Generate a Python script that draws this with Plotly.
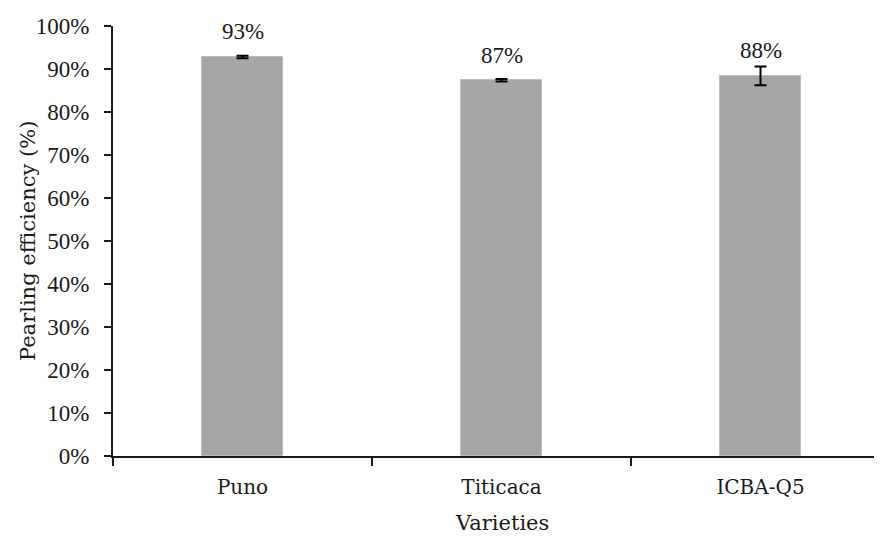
import plotly.graph_objects as go

categories = ["Puno", "Titicaca", "ICBA-Q5"]
values = [92.8, 87.4, 88.4]
errors = [0.3, 0.3, 2.2]
labels = ["93%", "87%", "88%"]
y_ticks = [0, 10, 20, 30, 40, 50, 60, 70, 80, 90, 100]
y_tick_text = [f"{v}%" for v in y_ticks]

NUM_FONT = "Liberation Serif"
WORD_FONT = "DejaVu Serif"
INK = "#1a1a1a"

fig = go.Figure()
fig.add_trace(go.Bar(
    x=categories, y=values, width=0.31,
    marker=dict(color="#a6a6a6", line=dict(width=1, color="#bdbdbd")),
    error_y=dict(type="data", array=errors, visible=True,
                 color="#000000", thickness=2, width=6),
))
for c, v, t in zip(categories, values, labels):
    fig.add_annotation(x=c, y=v, text=t, showarrow=False,
                       yanchor="middle", yshift=25,
                       font=dict(family=NUM_FONT, size=23, color=INK))

# axis titles
fig.add_annotation(xref="paper", yref="paper", x=0, y=0.5, xshift=-85,
                   text="Pearling efficiency (%)", textangle=-90, showarrow=False,
                   xanchor="center", yanchor="middle",
                   font=dict(family=WORD_FONT, size=21, color=INK))
fig.add_annotation(xref="x", yref="paper", x=1, y=0, yshift=-67,
                   text="Varieties", showarrow=False,
                   xanchor="center", yanchor="middle",
                   font=dict(family=WORD_FONT, size=21, color=INK))

fig.update_layout(
    width=882, height=538,
    margin=dict(l=105, r=0, t=18, b=90),
    paper_bgcolor="white", plot_bgcolor="white",
    showlegend=False,
    bargap=0,
)
fig.update_xaxes(
    type="category", range=[-0.5, 2.5], tickson="boundaries",
    ticks="outside", ticklen=8, tickwidth=1.5, tickcolor=INK,
    showline=True, linecolor=INK, linewidth=2,
    showgrid=False, zeroline=False, ticklabelstandoff=12,
    tickfont=dict(family=WORD_FONT, size=20, color=INK),
)
fig.update_yaxes(
    range=[0, 100], tickvals=y_ticks, ticktext=y_tick_text,
    ticks="outside", ticklen=7, tickwidth=1.5, tickcolor=INK,
    showline=True, linecolor=INK, linewidth=2,
    showgrid=False, zeroline=False, ticklabelstandoff=10,
    tickfont=dict(family=NUM_FONT, size=23, color=INK),
)

fig.write_html("out.html")
